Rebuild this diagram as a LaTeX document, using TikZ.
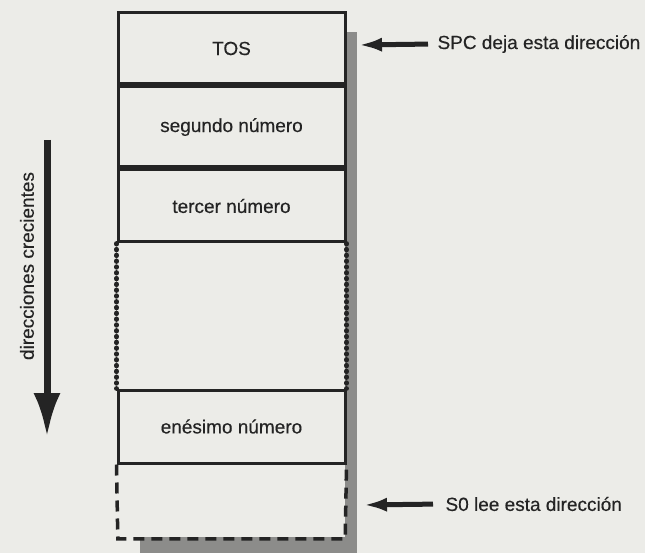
\documentclass[tikz,border=0pt]{standalone}
\usepackage{fontspec}
\setmainfont{Liberation Sans}
\newfontfamily\etiq{Liberation Sans}[FakeBold=0.35]
\usetikzlibrary{arrows.meta,positioning}
\definecolor{papel}{RGB}{236,236,232}
\definecolor{tinta}{RGB}{36,36,36}
\definecolor{sombra}{RGB}{140,140,138}
\tikzset{
  celda/.style={minimum width=227pt, inner sep=0pt, text=tinta, font=\fontsize{19}{22}\etiq},
  borde/.style={draw=tinta, line width=3pt},
  puntos/.style={tinta, line width=4.8pt, line cap=round, dash pattern=on 0.6pt off 5.2pt},
  rayas/.style={tinta, line width=3.5pt, dash pattern=on 11pt off 7pt},
  texto/.style={text=tinta, font=\fontsize{19}{22}\etiq},
  flecha/.style={tinta, line width=5pt, -{Latex[length=24pt,width=14pt]}},
}
\begin{document}
\begin{tikzpicture}[x=1pt,y=-1pt]
\fill[papel] (0,0) rectangle (645,553);
\useasboundingbox (0,0) rectangle (645,553);
% sombra
\fill[sombra] (345,32) rectangle (357,553);
\fill[sombra] (140,537) rectangle (357,553);
% pila
\node[celda, borde, minimum height=71pt] (tos) at (231.5,48.5) {TOS};
\node[celda, borde, minimum height=80pt, below=0pt of tos] (seg) {segundo número};
\node[celda, borde, minimum height=72pt, below=0pt of seg] (ter) {tercer número};
\node[celda, borde, minimum height=73pt] (ene) at (231.5,426.5) {enésimo número};
\node[celda, minimum height=74pt, below=0pt of ene] (fondo) {};
\draw[puntos] (ter.south west) -- (ene.north west);
\draw[puntos] (ter.south east) -- (ene.north east);
\draw[rayas] (ene.south west) -- (fondo.south west) -- (fondo.south east) -- (ene.south east);
% etiquetas
\node[texto, anchor=west] (spc) at (434,44) {SPC deja esta dirección};
\coordinate (p1) at (358,45);
\draw[flecha, shorten <=6pt] (spc.west) -- (p1);
\node[texto, anchor=west] (s0) at (442,504) {S0 lee esta dirección};
\coordinate (p2) at (363,505);
\draw[flecha, shorten <=9pt] (s0.west) -- (p2);
% direcciones
\node[texto, rotate=90] (dir) at (27,266) {direcciones crecientes};
\coordinate (d1) at (47,140);
\coordinate (d2) at (47,437);
\draw[tinta, line width=7pt, -{Latex[length=44pt,width=27pt]}] (d1) -- (d2);
\end{tikzpicture}
\end{document}
